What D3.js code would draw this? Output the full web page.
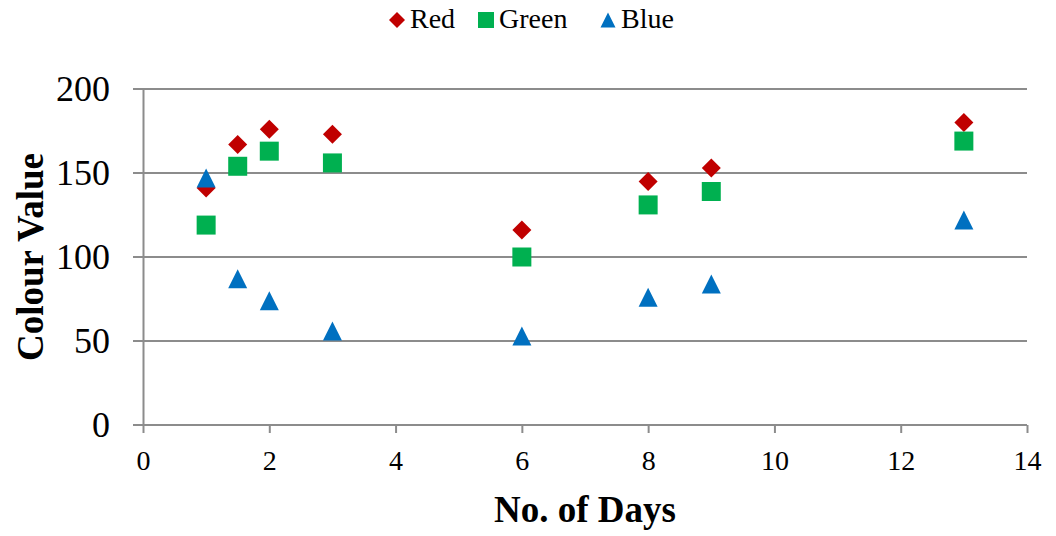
<!DOCTYPE html>
<html lang="en">
<head>
    <meta charset="UTF-8">
    <title>Colour Value</title>
    <script src="https://d3js.org/d3.v7.min.js"></script>
    <style>
        body { margin: 0; background: white; }
        text { font-family: 'Liberation Serif', 'Times New Roman', serif; fill: black; }
        .axis path, .axis line { stroke: #8c8c8c; stroke-width: 2; }
        .grid line { stroke: #8c8c8c; stroke-width: 2; }
    </style>
</head>
<body>
<script>

    const width = 1056;
    const height = 536;

    const days = [1, 1.5, 2, 3, 6, 8, 9, 13];
    const red = [141, 167, 176, 173, 116, 145, 153, 180];
    const green = [119, 154, 163, 156, 100, 131, 139, 169];
    const blue = [147, 87, 74, 56, 53, 76, 84, 122];

    const xTicks = [0, 2, 4, 6, 8, 10, 12, 14];
    const yTicks = [0, 50, 100, 150, 200];

    const series = [
        {name: 'Red', values: red, color: '#c00000', shape: 'diamond'},
        {name: 'Green', values: green, color: '#00b050', shape: 'square'},
        {name: 'Blue', values: blue, color: '#0070c0', shape: 'triangle'}
    ];

    const margin = {left: 143, right: 29, top: 89, bottom: 111};
    const plotW = width - margin.left - margin.right;
    const plotH = height - margin.top - margin.bottom;

    const x = d3.scaleLinear().domain([0, 14]).range([0, plotW]);
    const y = d3.scaleLinear().domain([0, 200]).range([plotH, 0]);

    // excel-like markers
    const diamond = {draw(ctx, size) {
        const r = Math.sqrt(size) / 2;
        ctx.moveTo(0, -r); ctx.lineTo(r, 0); ctx.lineTo(0, r); ctx.lineTo(-r, 0); ctx.closePath();
    }};
    const triangle = {draw(ctx, size) {
        const r = Math.sqrt(size) / 2;
        ctx.moveTo(0, -r); ctx.lineTo(r, r); ctx.lineTo(-r, r); ctx.closePath();
    }};
    const shapes = {
        diamond: d3.symbol().type(diamond).size(19 * 19),
        square: d3.symbol().type(d3.symbolSquare).size(19 * 19),
        triangle: d3.symbol().type(triangle).size(19 * 19)
    };
    const legendShapes = {
        diamond: d3.symbol().type(diamond).size(16 * 16),
        square: d3.symbol().type(d3.symbolSquare).size(16 * 16),
        triangle: d3.symbol().type(triangle).size(15 * 15)
    };

    const svg = d3.select("body").append("svg").attr("width", width).attr("height", height);
    const chart = svg.append("g").attr("transform", `translate(${margin.left},${margin.top})`);

    // horizontal gridlines
    chart.append("g").attr("class", "grid")
        .selectAll("line")
        .data(yTicks)
        .enter().append("line")
        .attr("x1", -10).attr("x2", plotW)
        .attr("y1", d => y(d)).attr("y2", d => y(d));

    const yAxis = chart.append("g").attr("class", "axis")
        .call(d3.axisLeft(y).tickValues(yTicks).tickSize(0).tickPadding(33).tickSizeOuter(0));
    yAxis.selectAll("text").style("font-size", "36px").attr("dy", "0.33em");

    const xAxis = chart.append("g").attr("class", "axis")
        .attr("transform", `translate(0,${plotH})`)
        .call(d3.axisBottom(x).tickValues(xTicks).tickSize(8).tickSizeOuter(0).tickPadding(17));
    xAxis.selectAll("text").style("font-size", "28px").attr("dy", "0.71em");
    xAxis.select(".domain").remove();
    chart.append("line").attr("class", "axisline")
        .attr("x1", 0).attr("x2", plotW).attr("y1", plotH).attr("y2", plotH)
        .attr("stroke", "#8c8c8c").attr("stroke-width", 2);

    series.forEach(s => {
        chart.append("g").selectAll("path")
            .data(days.map((d, i) => [d, s.values[i]]))
            .enter().append("path")
            .attr("transform", d => `translate(${x(d[0])},${y(d[1])})`)
            .attr("d", shapes[s.shape])
            .attr("fill", s.color);
    });

    // axis titles
    svg.append("text")
        .attr("transform", `translate(43,${margin.top + plotH / 2}) rotate(-90)`)
        .attr("text-anchor", "middle")
        .style("font-size", "37px").style("font-weight", "bold")
        .text("Colour Value");
    svg.append("text")
        .attr("x", 585).attr("y", 522)
        .attr("text-anchor", "middle")
        .style("font-size", "37px").style("font-weight", "bold")
        .text("No. of Days");

    // legend
    const legendX = [397, 486, 608];
    const legend = svg.append("g").selectAll("g")
        .data(series)
        .enter().append("g")
        .attr("transform", (d, i) => `translate(${legendX[i]},20)`);
    legend.append("path")
        .attr("d", d => legendShapes[d.shape]())
        .attr("fill", d => d.color);
    legend.append("text")
        .attr("x", 13)
        .attr("y", 8)
        .style("font-size", "28px")
        .text(d => d.name);

</script>
</body>
</html>
